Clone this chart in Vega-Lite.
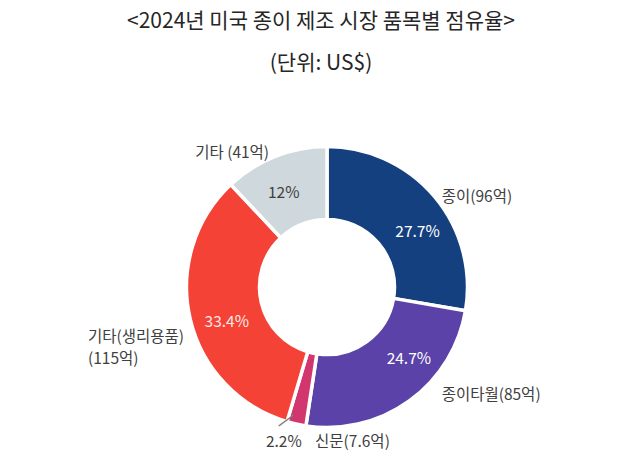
{
  "$schema": "https://vega.github.io/schema/vega-lite/v6.json",
  "width": 622,
  "height": 364,
  "autosize": {"type": "none"},
  "padding": {"left": 16, "top": 105, "right": 0, "bottom": 0},
  "background": "white",
  "view": {"stroke": null},
  "title": {
    "text": ["<2024년 미국 종이 제조 시장 품목별 점유율>", "(단위: US$)"],
    "font": "Noto Sans CJK KR",
    "fontSize": 21,
    "fontWeight": "normal",
    "color": "#262626",
    "lineHeight": 42,
    "anchor": "middle",
    "dx": -6,
    "offset": 31
  },
  "data": {
    "values": [
      {"cat": "종이", "pct": 27.7, "order": 1, "label": "종이(96억)", "pctLabel": "27.7%"},
      {"cat": "종이타월", "pct": 24.7, "order": 2, "label": "종이타월(85억)", "pctLabel": "24.7%"},
      {"cat": "신문", "pct": 2.2, "order": 3, "label": "신문(7.6억)", "pctLabel": "2.2%"},
      {"cat": "기타(생리용품)", "pct": 33.4, "order": 4, "label": "기타(생리용품)\n(115억)", "pctLabel": "33.4%"},
      {"cat": "기타", "pct": 12.0, "order": 5, "label": "기타 (41억)", "pctLabel": "12%"}
    ]
  },
  "encoding": {
    "theta": {"field": "pct", "type": "quantitative", "stack": true},
    "order": {"field": "order", "type": "quantitative", "sort": "ascending"}
  },
  "layer": [
    {
      "mark": {"type": "arc", "outerRadius": 140.5, "innerRadius": 67.5, "stroke": "white", "strokeWidth": 3.5},
      "encoding": {
        "color": {
          "field": "cat",
          "type": "nominal",
          "scale": {
            "domain": ["종이", "종이타월", "신문", "기타(생리용품)", "기타"],
            "range": ["#14407F", "#5A42A8", "#D2366F", "#F44336", "#CFD8DC"]
          },
          "legend": null
        }
      }
    },
    {
      "mark": {"type": "text", "radius": 160, "align": "left", "baseline": "middle", "dx": -7.6, "dy": 13, "font": "Noto Sans CJK KR", "fontSize": 15.5, "color": "#404040"},
      "encoding": {"text": {"condition": {"test": "datum.cat === '종이'", "field": "label", "type": "nominal"}, "value": ""}}
    },
    {
      "mark": {"type": "text", "radius": 160, "align": "left", "baseline": "middle", "dx": 21, "dy": -21.7, "font": "Noto Sans CJK KR", "fontSize": 15.5, "color": "#404040"},
      "encoding": {"text": {"condition": {"test": "datum.cat === '종이타월'", "field": "label", "type": "nominal"}, "value": ""}}
    },
    {
      "mark": {"type": "text", "radius": 160, "align": "left", "baseline": "middle", "dx": 23, "dy": -1.5, "font": "Noto Sans CJK KR", "fontSize": 15.5, "color": "#404040"},
      "encoding": {"text": {"condition": {"test": "datum.cat === '신문'", "field": "label", "type": "nominal"}, "value": ""}}
    },
    {
      "mark": {"type": "text", "radius": 160, "align": "left", "baseline": "middle", "dx": -83.3, "dy": 13.5, "lineBreak": "\n", "lineHeight": 21.3, "font": "Noto Sans CJK KR", "fontSize": 15.5, "color": "#404040"},
      "encoding": {"text": {"condition": {"test": "datum.cat === '기타(생리용품)'", "field": "label", "type": "nominal"}, "value": ""}}
    },
    {
      "mark": {"type": "text", "radius": 160, "align": "right", "baseline": "middle", "dx": 1, "dy": 15, "font": "Noto Sans CJK KR", "fontSize": 15.5, "color": "#404040"},
      "encoding": {"text": {"condition": {"test": "datum.cat === '기타'", "field": "label", "type": "nominal"}, "value": ""}}
    },
    {
      "mark": {"type": "text", "radius": 104, "align": "center", "baseline": "middle", "dx": 11, "dy": 12, "font": "Noto Sans CJK KR", "fontSize": 15.5, "color": "#FFFFFF"},
      "encoding": {"text": {"condition": {"test": "datum.cat === '종이'", "field": "pctLabel", "type": "nominal"}, "value": ""}}
    },
    {
      "mark": {"type": "text", "radius": 104, "align": "center", "baseline": "middle", "dx": 21, "dy": -12, "font": "Noto Sans CJK KR", "fontSize": 15.5, "color": "#FFFFFF"},
      "encoding": {"text": {"condition": {"test": "datum.cat === '종이타월'", "field": "pctLabel", "type": "nominal"}, "value": ""}}
    },
    {
      "mark": {"type": "text", "radius": 104, "align": "center", "baseline": "middle", "dx": 1, "dy": 11, "font": "Noto Sans CJK KR", "fontSize": 15.5, "color": "#FFE9E7"},
      "encoding": {"text": {"condition": {"test": "datum.cat === '기타(생리용품)'", "field": "pctLabel", "type": "nominal"}, "value": ""}}
    },
    {
      "mark": {"type": "text", "radius": 104, "align": "center", "baseline": "middle", "dx": -5, "dy": 3, "font": "Noto Sans CJK KR", "fontSize": 15.5, "color": "#404040"},
      "encoding": {"text": {"condition": {"test": "datum.cat === '기타'", "field": "pctLabel", "type": "nominal"}, "value": ""}}
    },
    {
      "mark": {"type": "text", "radius": 160, "align": "right", "baseline": "middle", "dx": 9.6, "dy": -1.5, "font": "Noto Sans CJK KR", "fontSize": 15.5, "color": "#404040"},
      "encoding": {"text": {"condition": {"test": "datum.cat === '신문'", "field": "pctLabel", "type": "nominal"}, "value": ""}}
    },
    {
      "mark": {"type": "text", "radius": 140, "angle": 323.6, "align": "center", "baseline": "middle", "dx": -6.2, "dy": -8.8, "font": "DejaVu Sans", "fontSize": 21, "color": "#7F7F7F"},
      "encoding": {"text": {"condition": {"test": "datum.cat === '신문'", "value": "—"}, "value": ""}}
    }
  ]
}
